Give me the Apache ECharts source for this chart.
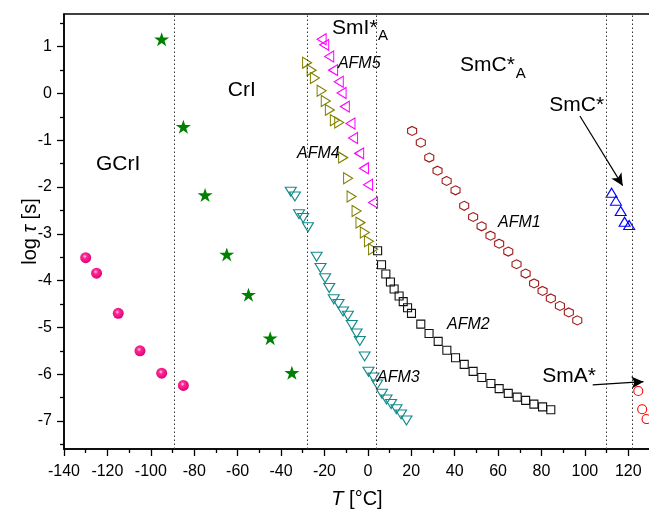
<!DOCTYPE html>
<html>
<head>
<meta charset="utf-8">
<script src="https://cdn.jsdelivr.net/npm/echarts@6/dist/echarts.min.js"></script>
<style>html,body{margin:0;padding:0;background:#fff;}#c{width:649px;height:510px;}</style>
</head>
<body>
<div id="c"></div>
<script>
// ---- Data (T in °C, log tau in s) ----
var gcrT = [-130, -125, -115, -105, -95, -85];
var gcrL = [-3.51, -3.84, -4.70, -5.50, -5.98, -6.24];

var crT = [-95, -85, -75, -65, -55, -45, -35];
var crL = [1.16, -0.71, -2.17, -3.44, -4.30, -5.23, -5.97];

var afm3T = [-35.5, -33.6, -31.7, -29.8, -27.6, -23.6, -21.8, -19.7, -17.8, -15.7, -13.5, -11.4, -9.2, -7.4, -5.2, -3.7, -1.5, 0.3, 2.6, 4.3, 6.5, 8.6, 10.7, 13.2, 15.3, 17.8];
var afm3L = [-2.10, -2.20, -2.58, -2.66, -2.86, -3.49, -3.73, -3.95, -4.16, -4.40, -4.50, -4.66, -4.75, -4.95, -5.13, -5.29, -5.62, -5.95, -6.07, -6.22, -6.42, -6.54, -6.64, -6.75, -6.86, -6.99];

var afm5T = [-21.3, -20.1, -17.8, -16.0, -13.4, -12.1, -10.6, -8.0, -6.8, -4.0, -1.8, 0.1, 2.4];
var afm5L = [1.16, 1.04, 0.79, 0.50, 0.25, 0.01, -0.28, -0.64, -0.95, -1.28, -1.60, -1.95, -2.33];

var afm4T = [-28.0, -25.9, -24.4, -21.3, -19.4, -17.5, -15.2, -13.2, -11.4, -9.1, -7.5, -5.2, -3.4, -1.4, 0.5, 2.4];
var afm4L = [0.66, 0.50, 0.33, 0.06, -0.16, -0.35, -0.57, -0.62, -1.37, -1.81, -2.20, -2.51, -2.76, -2.97, -3.16, -3.33];

var afm2T = [4.5, 6.3, 8.3, 10.4, 12.1, 14.4, 16.3, 18.3, 20.1, 24.4, 28.2, 32.4, 36.4, 40.4, 44.4, 48.5, 52.5, 56.7, 60.5, 64.7, 68.8, 72.7, 76.5, 80.5, 84.3];
var afm2L = [-3.36, -3.66, -3.86, -4.03, -4.18, -4.33, -4.45, -4.58, -4.70, -4.93, -5.13, -5.30, -5.49, -5.65, -5.79, -5.94, -6.07, -6.20, -6.31, -6.41, -6.49, -6.56, -6.64, -6.70, -6.76];

var afm1T = [20.4, 24.4, 28.3, 32.1, 36.3, 40.4, 44.4, 48.5, 52.4, 56.5, 60.5, 64.7, 68.5, 72.7, 76.6, 80.5, 84.3, 88.5, 92.6, 96.5];
var afm1L = [-0.80, -1.05, -1.37, -1.65, -1.87, -2.07, -2.40, -2.64, -2.84, -3.04, -3.21, -3.38, -3.65, -3.85, -4.06, -4.22, -4.38, -4.54, -4.68, -4.85];

var smcT = [112.3, 114.3, 116.5, 118.3, 120.4];
var smcL = [-2.12, -2.29, -2.51, -2.74, -2.81];

var smaT = [124.6, 126.4, 128.4];
var smaL = [-6.36, -6.75, -6.96];

// phase boundaries (°C)
var boundaries = [-89, -28, 4, 110, 122];

// axis ticks
var xTicks = [-140, -120, -100, -80, -60, -40, -20, 0, 20, 40, 60, 80, 100, 120];
var xMinorTicks = [-130, -110, -90, -70, -50, -30, -10, 10, 30, 50, 70, 90, 110, 130];
var yTicks = [-7, -6, -5, -4, -3, -2, -1, 0, 1];
var yMinorTicks = [-7.5, -6.5, -5.5, -4.5, -3.5, -2.5, -1.5, -0.5, 0.5, 1.5];

// text annotations
var annoT = [-125.3, -64.5, -16.5, 4.7, 42.5, 68.2, 83.6, 80.4, -13.8, -32.6, 60.0, 36.5, 4.2];
var annoL = [-1.52, 0.07, 1.40, 1.235, 0.615, 0.42, -0.24, -6.04, 0.643, -1.29, -2.76, -4.93, -6.08];
var annoText = ['GCrI', 'CrI', 'SmI*', 'A', 'SmC*', 'A', 'SmC*', 'SmA*', 'AFM5', 'AFM4', 'AFM1', 'AFM2', 'AFM3'];
var annoSize = [21, 21, 21, 15, 21, 15, 21, 21, 16, 16, 16, 16, 16];
var annoItalic = [false, false, false, false, false, false, false, false, true, true, true, true, true];

// arrows: start and end points
var arrowFromT = [97.7, 103.6], arrowFromL = [-0.48, -6.23];
var arrowToT = [117.4, 127.0], arrowToL = [-1.97, -6.16];

var FONT = 'Liberation Sans, Arial, Helvetica, sans-serif';

function pairs(a, b) { return a.map(function (v, i) { return [v, b[i]]; }); }

var starPath = 'path://M0,-1 L0.2245,-0.309 L0.951,-0.309 L0.363,0.118 L0.588,0.809 L0,0.382 L-0.588,0.809 L-0.363,0.118 L-0.951,-0.309 L-0.2245,-0.309 Z';
var hexPath = 'path://M0,-1 L0.866,-0.5 L0.866,0.5 L0,1 L-0.866,0.5 L-0.866,-0.5 Z';

function hollow(color, w) {
  return { color: 'rgba(0,0,0,0)', borderColor: color, borderWidth: w || 1.1, opacity: 1 };
}

var chart = echarts.init(document.getElementById('c'), null, { renderer: 'canvas' });

var option = {
  animation: false,
  backgroundColor: '#fff',
  textStyle: { fontFamily: FONT },
  grid: { left: 64, top: 14, width: 586, height: 435, containLabel: false, outerBoundsMode: 'none',
    show: true, borderColor: '#000', borderWidth: 1.5, backgroundColor: 'transparent' },
  xAxis: [{
    type: 'value', min: -140, max: 130, position: 'bottom',
    name: '{i|T} [°C]', nameLocation: 'middle', nameGap: 40, nameMoveOverlap: false,
    nameTextStyle: { fontSize: 20, color: '#000', fontFamily: FONT,
      rich: { i: { fontStyle: 'italic', fontSize: 20, fontFamily: FONT, color: '#000' } } },
    axisLine: { show: true, onZero: false, lineStyle: { color: '#000', width: 1.5 } },
    axisTick: { show: true, inside: false, length: 7, lineStyle: { color: '#000', width: 1.3 }, customValues: xTicks },
    axisLabel: { show: true, margin: 15, fontSize: 16, color: '#000', fontFamily: FONT, customValues: xTicks },
    splitLine: { show: false }
  }, {
    type: 'value', min: -140, max: 130, position: 'bottom', gridIndex: 0,
    axisLine: { show: false, onZero: false },
    axisTick: { show: true, inside: false, length: 4, lineStyle: { color: '#000', width: 1.3 }, customValues: xMinorTicks },
    axisLabel: { show: false },
    splitLine: { show: false }
  }],
  yAxis: [{
    type: 'value', min: -7.6, max: 1.7, position: 'left',
    name: 'log {i|τ} [s]', nameLocation: 'middle', nameGap: 24, nameRotate: 90, nameMoveOverlap: false,
    nameTextStyle: { fontSize: 20, color: '#000', fontFamily: FONT,
      rich: { i: { fontStyle: 'italic', fontSize: 20, fontFamily: FONT, color: '#000' } } },
    axisLine: { show: true, onZero: false, lineStyle: { color: '#000', width: 1.5 } },
    axisTick: { show: true, inside: false, length: 7, lineStyle: { color: '#000', width: 1.3 }, customValues: yTicks },
    axisLabel: { show: true, margin: 12, fontSize: 16, color: '#000', fontFamily: FONT, customValues: yTicks },
    splitLine: { show: false }
  }, {
    type: 'value', min: -7.6, max: 1.7, position: 'left', gridIndex: 0,
    axisLine: { show: false, onZero: false },
    axisTick: { show: true, inside: false, length: 4, lineStyle: { color: '#000', width: 1.3 }, customValues: yMinorTicks },
    axisLabel: { show: false },
    splitLine: { show: false }
  }],
  series: [
    {
      name: 'boundaries', type: 'scatter', data: [], z: 1, silent: true,
      markLine: {
        silent: true, symbol: ['none', 'none'], animation: false,
        label: { show: false },
        lineStyle: { type: [1.5, 2.5], color: '#333', width: 1, opacity: 1 },
        data: boundaries.map(function (b) { return { xAxis: b }; })
      }
    },
    {
      name: 'GCrI', type: 'scatter', data: pairs(gcrT, gcrL), symbol: 'circle', symbolSize: 11, z: 3,
      itemStyle: { opacity: 1, color: { type: 'radial', x: 0.42, y: 0.38, r: 0.62, colorStops: [
        { offset: 0, color: '#ffd6ea' }, { offset: 0.3, color: '#ff2a92' }, { offset: 1, color: '#e0007a' }] } }
    },
    {
      name: 'CrI', type: 'scatter', data: pairs(crT, crL), symbol: starPath, symbolSize: [15, 14], z: 3,
      itemStyle: { color: '#008000', opacity: 1 }
    },
    {
      name: 'AFM3', type: 'scatter', data: pairs(afm3T, afm3L), symbol: 'triangle', symbolRotate: 180, symbolSize: [11, 9], z: 3,
      itemStyle: hollow('#138a8a')
    },
    {
      name: 'AFM5', type: 'scatter', data: pairs(afm5T, afm5L), symbol: 'triangle', symbolRotate: 90, symbolSize: [11, 9], z: 3,
      itemStyle: hollow('#ff00ff')
    },
    {
      name: 'AFM4', type: 'scatter', data: pairs(afm4T, afm4L), symbol: 'triangle', symbolRotate: -90, symbolSize: [11, 9], z: 3,
      itemStyle: hollow('#808000')
    },
    {
      name: 'AFM2', type: 'scatter', data: pairs(afm2T, afm2L), symbol: 'rect', symbolSize: 8, z: 3,
      itemStyle: hollow('#111')
    },
    {
      name: 'AFM1', type: 'scatter', data: pairs(afm1T, afm1L), symbol: hexPath, symbolSize: [9, 9], z: 3,
      itemStyle: hollow('#a01818')
    },
    {
      name: 'SmC*', type: 'scatter', data: pairs(smcT, smcL), symbol: 'triangle', symbolSize: [11, 9], z: 3,
      itemStyle: hollow('#0000ff')
    },
    {
      name: 'SmA*', type: 'scatter', data: pairs(smaT, smaL), symbol: 'circle', symbolSize: 9, z: 3,
      itemStyle: hollow('#ff0000')
    },
    {
      name: 'annotations', type: 'scatter', symbolSize: 0, z: 4, silent: true,
      itemStyle: { opacity: 1 },
      data: annoT.map(function (t, i) {
        return {
          value: [t, annoL[i]],
          label: {
            show: true, position: 'right', distance: 0, formatter: annoText[i],
            fontSize: annoSize[i], fontStyle: annoItalic[i] ? 'italic' : 'normal',
            color: '#000', fontFamily: FONT, opacity: 1
          }
        };
      }),
      markLine: {
        silent: true, symbol: ['none', 'arrow'], symbolSize: [9, 12], animation: false,
        label: { show: false },
        lineStyle: { type: 'solid', color: '#000', width: 1.2, opacity: 1 },
        data: arrowFromT.map(function (t, i) {
          return [{ coord: [t, arrowFromL[i]] }, { coord: [arrowToT[i], arrowToL[i]] }];
        })
      }
    }
  ]
};
chart.setOption(option);
</script>
</body>
</html>
